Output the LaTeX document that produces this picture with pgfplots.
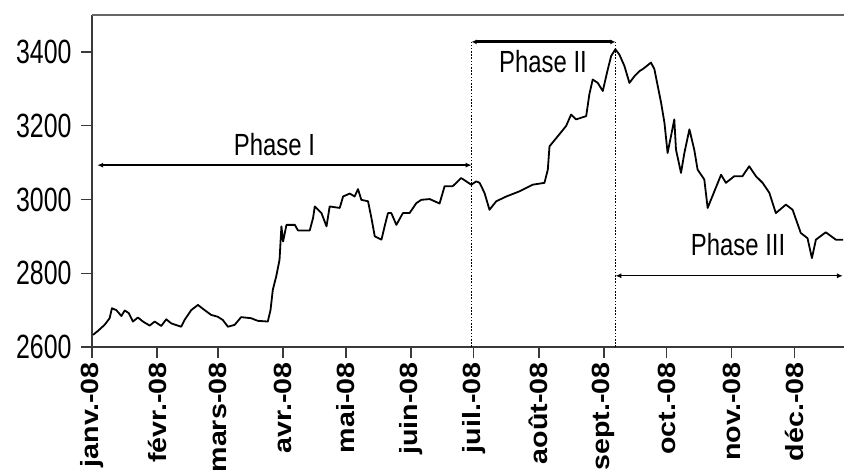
\documentclass[border=0pt]{standalone}
\usepackage{fontspec}
\setmainfont{Liberation Sans}
\usepackage{graphicx}
\usepackage{pgfplots}
\pgfplotsset{compat=1.18}
\usetikzlibrary{arrows.meta}
\definecolor{axgray}{HTML}{3A3A3A}
\definecolor{topgray}{HTML}{666666}
\newcommand{\xl}[1]{\scalebox{1.15}[1]{#1}}
\newcommand{\yl}[1]{\scalebox{1}[1.35]{#1}}
\begin{document}
\begin{tikzpicture}[x=1bp,y=1bp]
\begin{axis}[
  scale only axis,
  width=752bp, height=332bp,
  xmin=0, xmax=358.5,
  ymin=2600, ymax=3500,
  axis x line*=bottom, axis y line*=left,
  axis line style={line width=1.6bp, color=axgray, -},
  tick align=outside,
  major tick length=11bp,
  tick style={line width=1.4bp, color=axgray},
  xtick={0,31,60,91,121,152,182,213,244,274,305,335},
  xticklabels={\xl{janv.-08},\xl{févr.-08},\xl{mars-08},\xl{avr.-08},\xl{mai-08},\xl{juin-08},\xl{juil.-08},\xl{août-08},\xl{sept.-08},\xl{oct.-08},\xl{nov.-08},\xl{déc.-08}},
  xticklabel style={rotate=90, anchor=east, font=\fontsize{25}{25}\selectfont\bfseries, color=black, xshift=-1bp},
  ytick={2600,2800,3000,3200,3400},
  yticklabels={\yl{2600},\yl{2800},\yl{3000},\yl{3200},\yl{3400}},
  yticklabel style={font=\fontsize{25}{25}\selectfont, color=black, xshift=-6bp},
  clip=false,
]
\addplot[black, line width=1.8bp, line join=round] coordinates {
(0.5,2633) (2.9,2644) (6.0,2660) (8.4,2678) (9.5,2705) (11.6,2700) (14.0,2684) (15.6,2699) (17.5,2692) (19.5,2669)
(21.9,2680) (24.3,2669) (27.5,2658) (29.9,2669) (33.0,2657) (35.4,2675) (37.8,2664) (42.5,2655) (44.1,2673) (47.3,2700)
(50.5,2714) (53.7,2700) (56.8,2687) (60.0,2682) (62.4,2673) (64.8,2655) (68.0,2660) (71.1,2681) (75.9,2678) (79.0,2671)
(83.8,2669) (85.1,2700) (86.2,2755) (87.8,2791) (89.4,2836) (90.3,2927) (91.1,2886) (92.7,2931) (96.7,2931) (98.2,2916)
(103.8,2916) (105.4,2950) (106.2,2981) (109.4,2963) (111.8,2927) (113.3,2981) (118.1,2977) (119.7,3008) (122.9,3016) (125.2,3008)
(126.8,3028) (128.4,2999) (131.6,2995) (133.2,2950) (134.8,2900) (138.0,2891) (139.5,2927) (141.1,2963) (142.7,2963) (145.1,2931)
(148.2,2963) (151.4,2963) (154.6,2990) (157.0,2999) (161.0,3001) (165.7,2989) (168.1,3036) (172.0,3036) (176.0,3058) (178.4,3049)
(180.8,3040) (183.2,3049) (184.8,3045) (187.1,3018) (189.5,2972) (192.7,2995) (197.5,3008) (203.8,3022) (210.1,3040) (215.7,3045)
(217.3,3081) (218.1,3144) (222.0,3171) (226.0,3199) (228.4,3230) (230.8,3217) (235.6,3226) (237.1,3285) (238.7,3325) (241.1,3316)
(243.5,3294) (245.9,3353) (247.5,3389) (249.5,3407) (251.4,3393) (253.8,3362) (256.2,3316) (258.6,3334) (261.0,3348) (262.5,3353)
(266.5,3371) (268.1,3353) (271.3,3262) (272.9,3208) (274.4,3126) (276.0,3171) (277.6,3217) (278.4,3135) (280.8,3072) (282.4,3126)
(284.8,3190) (287.1,3135) (288.7,3081) (291.9,3054) (293.5,2977) (296.7,3022) (299.9,3067) (302.2,3045) (306.2,3063) (310.1,3063)
(313.3,3090) (316.5,3063) (319.7,3045) (322.9,3018) (326.0,2963) (330.8,2986) (334.0,2972) (337.9,2909) (341.1,2895) (343.2,2841)
(345.1,2891) (349.8,2911) (354.6,2891) (358.1,2891)
};
\draw[line width=1.6bp, topgray] (rel axis cs:0,1) -- (rel axis cs:1,1);
\draw[line width=1bp, dash pattern=on 1.6bp off 1.6bp] (axis cs:181,2600) -- (axis cs:181,3427);
\draw[line width=1bp, dash pattern=on 1.6bp off 1.6bp] (axis cs:249.5,2600) -- (axis cs:249.5,3427);
\draw[line width=1.3bp, {Latex[length=6bp,width=5bp]}-{Latex[length=6bp,width=5bp]}] (axis cs:2.5,3093) -- (axis cs:181,3093);
\draw[line width=3bp, {Latex[length=5bp,width=5bp]}-{Latex[length=5bp,width=5bp]}] (axis cs:181,3427) -- (axis cs:249.5,3427);
\draw[line width=1.3bp, {Latex[length=6bp,width=5bp]}-{Latex[length=6bp,width=5bp]}] (axis cs:249.5,2793) -- (axis cs:358,2793);
\node[font=\fontsize{24}{24}\selectfont] at (axis cs:87,3149) {\scalebox{1}[1.28]{Phase I}};
\node[font=\fontsize{24}{24}\selectfont] at (axis cs:215,3374) {\scalebox{1}[1.28]{Phase II}};
\node[font=\fontsize{24}{24}\selectfont] at (axis cs:308,2877) {\scalebox{1}[1.28]{Phase III}};
\coordinate (bl) at (rel axis cs:0,0);
\coordinate (tr) at (rel axis cs:1,1);
\end{axis}
\pgfresetboundingbox
\path ([xshift=-92bp,yshift=-129bp]bl) rectangle ([yshift=15bp]tr);
\end{tikzpicture}
\end{document}
